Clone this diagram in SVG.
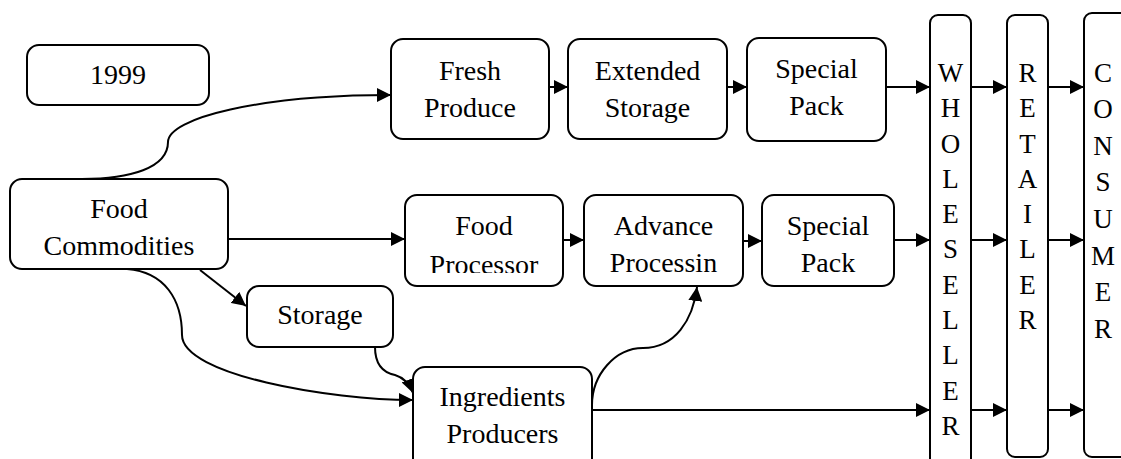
<svg xmlns="http://www.w3.org/2000/svg" width="1121" height="459" viewBox="0 0 1121 459">
<style>
.box{fill:#fff;stroke:#000;stroke-width:2}
text{font-family:'Liberation Serif','DejaVu Serif','Noto Serif',serif;fill:#000;text-anchor:middle}
.t{font-size:28px}
.v{font-size:27px}
.c{fill:none;stroke:#000;stroke-width:2}
</style>
<defs>
<marker id="ah" markerUnits="userSpaceOnUse" markerWidth="16" markerHeight="14" refX="14" refY="7" orient="auto">
<path d="M0,0 L14,7 L0,14 z" fill="#000"/>
</marker>
<clipPath id="clipProc"><rect x="405" y="195" width="158" height="78"/></clipPath>
</defs>
<rect width="1121" height="459" fill="#fff"/>
<g id="connectors">
<path class="c" marker-end="url(#ah)" d="M82,179 C130,179 168,168 168,142 C168,118 260,95 391,95"/>
<path class="c" marker-end="url(#ah)" d="M549,87 L568,87"/>
<path class="c" marker-end="url(#ah)" d="M727,87 L747,87"/>
<path class="c" marker-end="url(#ah)" d="M886,87 L930,87"/>
<path class="c" marker-end="url(#ah)" d="M971,87 L1007,87"/>
<path class="c" marker-end="url(#ah)" d="M1048,87 L1084,87"/>
<path class="c" marker-end="url(#ah)" d="M228,239 L405,239"/>
<path class="c" marker-end="url(#ah)" d="M563,240 L584,240"/>
<path class="c" marker-end="url(#ah)" d="M743,241 L762,241"/>
<path class="c" marker-end="url(#ah)" d="M894,240 L930,240"/>
<path class="c" marker-end="url(#ah)" d="M971,240 L1007,240"/>
<path class="c" marker-end="url(#ah)" d="M1048,240 L1084,240"/>
<path class="c" marker-end="url(#ah)" d="M200,270 L246,306"/>
<path class="c" marker-end="url(#ah)" d="M127,269 C165,272 182,300 182,335 C182,375 330,400 413,400"/>
<path class="c" marker-end="url(#ah)" d="M375,347 C375,360 380,372 395,375 C405,378 410,385 413,393"/>
<path class="c" marker-end="url(#ah)" d="M592,410 L930,410"/>
<path class="c" marker-end="url(#ah)" d="M592,405 C592,375 615,348 643,348 C675,348 693,320 697,287"/>
<path class="c" marker-end="url(#ah)" d="M971,410 L1007,410"/>
<path class="c" marker-end="url(#ah)" d="M1048,410 L1084,410"/>
</g>
<g id="n1999"><rect class="box" x="27" y="45" width="182" height="60" rx="12"/><text class="t" x="118" y="84">1999</text></g>
<g id="foodCommodities"><rect class="box" x="10" y="179" width="218" height="90" rx="12"/><text class="t" x="119" y="218">Food</text><text class="t" x="119" y="255">Commodities</text></g>
<g id="freshProduce"><rect class="box" x="391" y="39" width="158" height="100" rx="12"/><text class="t" x="470" y="80">Fresh</text><text class="t" x="470" y="117">Produce</text></g>
<g id="extendedStorage"><rect class="box" x="568" y="39" width="159" height="100" rx="12"/><text class="t" x="647.5" y="80">Extended</text><text class="t" x="647.5" y="117">Storage</text></g>
<g id="specialPack1"><rect class="box" x="747" y="38" width="139" height="103" rx="12"/><text class="t" x="816.5" y="78">Special</text><text class="t" x="816.5" y="115">Pack</text></g>
<g id="foodProcessor"><rect class="box" x="405" y="195" width="158" height="91" rx="12"/><text class="t" x="484" y="235">Food</text><text class="t" x="484" y="274" clip-path="url(#clipProc)">Processor</text></g>
<g id="advanceProcessing"><rect class="box" x="584" y="195" width="159" height="91" rx="12"/><text class="t" x="663.5" y="235">Advance</text><text class="t" x="663.5" y="272">Processin</text></g>
<g id="specialPack2"><rect class="box" x="762" y="195" width="132" height="91" rx="12"/><text class="t" x="828" y="235">Special</text><text class="t" x="828" y="272">Pack</text></g>
<g id="storage"><rect class="box" x="247" y="286" width="146" height="61" rx="12"/><text class="t" x="320" y="324">Storage</text></g>
<g id="ingredients"><rect class="box" x="413" y="367" width="179" height="105" rx="12"/><text class="t" x="502.5" y="406">Ingredients</text><text class="t" x="502.5" y="443">Producers</text></g>
<g id="wholeseller"><rect class="box" x="930" y="15" width="41" height="460" rx="8"/>
<text class="v" x="950.5" y="82">W</text><text class="v" x="950.5" y="117">H</text><text class="v" x="950.5" y="153">O</text><text class="v" x="950.5" y="188">L</text><text class="v" x="950.5" y="223">E</text><text class="v" x="950.5" y="258">S</text><text class="v" x="950.5" y="294">E</text><text class="v" x="950.5" y="329">L</text><text class="v" x="950.5" y="364">L</text><text class="v" x="950.5" y="400">E</text><text class="v" x="950.5" y="435">R</text></g>
<g id="retailer"><rect class="box" x="1007" y="15" width="41" height="442" rx="8"/>
<text class="v" x="1027.5" y="82">R</text><text class="v" x="1027.5" y="117">E</text><text class="v" x="1027.5" y="153">T</text><text class="v" x="1027.5" y="188">A</text><text class="v" x="1027.5" y="223">I</text><text class="v" x="1027.5" y="258">L</text><text class="v" x="1027.5" y="294">E</text><text class="v" x="1027.5" y="329">R</text></g>
<g id="consumer"><rect class="box" x="1084" y="13" width="50" height="444" rx="8"/>
<text class="v" x="1103" y="82">C</text><text class="v" x="1103" y="118">O</text><text class="v" x="1103" y="155">N</text><text class="v" x="1103" y="191">S</text><text class="v" x="1103" y="228">U</text><text class="v" x="1103" y="265">M</text><text class="v" x="1103" y="301">E</text><text class="v" x="1103" y="338">R</text></g>
</svg>
